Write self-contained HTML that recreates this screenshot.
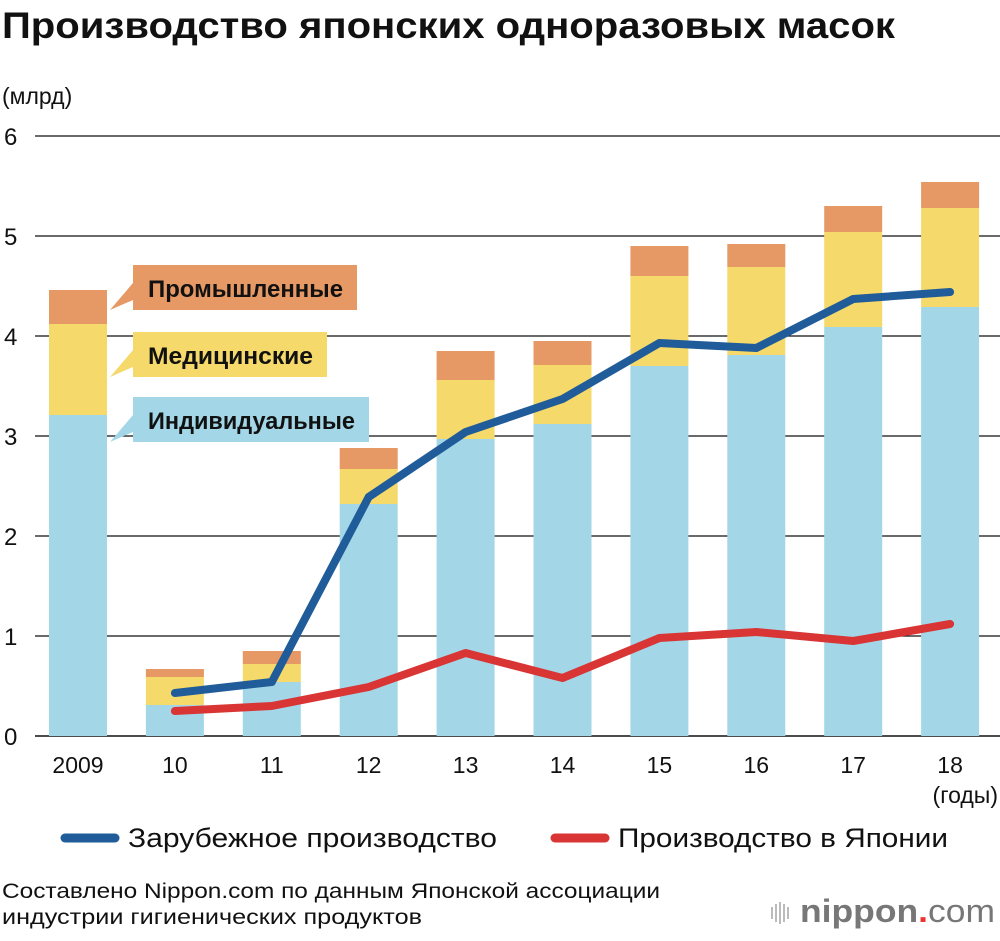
<!DOCTYPE html>
<html><head><meta charset="utf-8">
<style>
body{margin:0;background:#fff;width:1000px;height:936px;overflow:hidden;font-family:"Liberation Sans","Noto Sans CJK JP",sans-serif;}
svg text{font-family:"Liberation Sans","Noto Sans CJK JP",sans-serif;}
</style></head>
<body>
<svg id="chart" width="1000" height="936" xmlns="http://www.w3.org/2000/svg">
<text x="2" y="38" font-size="37" font-weight="bold" fill="#111" textLength="893" lengthAdjust="spacingAndGlyphs">Производство японских одноразовых масок</text>
<text x="2" y="104" font-size="23" fill="#111">(млрд)</text>
<g id="grid"></g>
<g id="bars"></g>
<g id="lines"></g>
<g id="xlabels"></g>
<text x="998" y="803" font-size="23" text-anchor="end" fill="#111">(годы)</text>
<g>
<polygon points="133,283 110,310 133,300" fill="#e69865"/>
<rect x="133" y="265" width="224" height="45" fill="#e69865"/>
<text x="148" y="297" font-size="24" font-weight="bold" fill="#111" textLength="195" lengthAdjust="spacingAndGlyphs">Промышленные</text></g>
<g>
<polygon points="133,350 110,377 133,367" fill="#f6d96b"/>
<rect x="133" y="332" width="194" height="45" fill="#f6d96b"/>
<text x="148" y="364" font-size="24" font-weight="bold" fill="#111" textLength="165" lengthAdjust="spacingAndGlyphs">Медицинские</text></g>
<g>
<polygon points="133,415 110,442 133,432" fill="#a3d7e8"/>
<rect x="133" y="397" width="236" height="45" fill="#a3d7e8"/>
<text x="148" y="429" font-size="24" font-weight="bold" fill="#111" textLength="207" lengthAdjust="spacingAndGlyphs">Индивидуальные</text></g>
<g>
<line x1="65" y1="838" x2="115" y2="838" stroke="#1f5c99" stroke-width="9" stroke-linecap="round"/>
<text x="128" y="847" font-size="27" fill="#111" textLength="369" lengthAdjust="spacingAndGlyphs">Зарубежное производство</text></g>
<g>
<line x1="555" y1="838" x2="605" y2="838" stroke="#d93535" stroke-width="9" stroke-linecap="round"/>
<text x="618" y="847" font-size="27" fill="#111" textLength="330" lengthAdjust="spacingAndGlyphs">Производство в Японии</text></g>
<text x="2" y="898" font-size="21" fill="#111" textLength="658" lengthAdjust="spacingAndGlyphs">Составлено Nippon.com по данным Японской ассоциации</text>
<text x="2" y="924" font-size="21" fill="#111" textLength="420" lengthAdjust="spacingAndGlyphs">индустрии гигиенических продуктов</text>
<g>
<g fill="#bbb"><rect x="771" y="907" width="2" height="12"/><rect x="775" y="904" width="2" height="18"/><rect x="779" y="902" width="2" height="22"/><rect x="783" y="904" width="2" height="18"/><rect x="787" y="907" width="2" height="12"/></g>
<text x="800" y="922" font-size="32" font-weight="bold" fill="#777" textLength="195" lengthAdjust="spacingAndGlyphs">nippon<tspan fill="#e33">.</tspan><tspan font-weight="normal">com</tspan></text></g>
</svg>
<script>
const categories=["2009","10","11","12","13","14","15","16","17","18"];
const individual=[3.21,0.31,0.54,2.32,2.97,3.12,3.70,3.81,4.09,4.29];
const medical=[0.91,0.28,0.18,0.35,0.59,0.59,0.90,0.88,0.95,0.99];
const industrial=[0.34,0.08,0.13,0.21,0.29,0.24,0.30,0.23,0.26,0.26];
const overseas=[null,0.43,0.54,2.39,3.04,3.37,3.93,3.88,4.37,4.44];
const japan=[null,0.25,0.30,0.49,0.83,0.58,0.98,1.04,0.95,1.12];
const yTicks=[0,1,2,3,4,5,6];
const NS="http://www.w3.org/2000/svg";
const y=v=>736-v*100;
const x=i=>78+i*96.9;
const bw=58;
function mk(tag,attrs,parent){const e=document.createElementNS(NS,tag);for(const k in attrs)e.setAttribute(k,attrs[k]);parent.appendChild(e);return e;}
const grid=document.getElementById('grid');
yTicks.forEach(t=>{
 const l=mk('line',{x1:35,x2:1000,y1:y(t),y2:y(t),stroke:'#111','stroke-width':t===0?1.5:1.2},grid);
 
 
 const tx=mk('text',{x:4,y:y(t)+9,'font-size':24,fill:'#111'},grid);
 tx.textContent=t;
 
 
});
const bars=document.getElementById('bars');
const xl=document.getElementById('xlabels');
categories.forEach((c,i)=>{
 const a=individual[i],b=medical[i],d=industrial[i];
 const r1=mk('rect',{x:x(i)-bw/2,y:y(a),width:bw,height:a*100,fill:'#a3d7e8'},bars);
 
 
 const r2=mk('rect',{x:x(i)-bw/2,y:y(a+b),width:bw,height:b*100,fill:'#f6d96b'},bars);
 
 
 const r3=mk('rect',{x:x(i)-bw/2,y:y(a+b+d),width:bw,height:d*100,fill:'#e69865'},bars);
 
 
 const t=mk('text',{x:x(i),y:773,'font-size':23,'text-anchor':'middle',fill:'#111'},xl);
 t.textContent=c;
 
 
});
const lines=document.getElementById('lines');
function pts(arr){return arr.map((v,i)=>v==null?null:x(i)+','+y(v)).filter(p=>p).join(' ');}
const lo=mk('polyline',{points:pts(overseas),fill:'none',stroke:'#1f5c99','stroke-width':8,'stroke-linejoin':'round','stroke-linecap':'round'},lines);


const lj=mk('polyline',{points:pts(japan),fill:'none',stroke:'#d93535','stroke-width':8,'stroke-linejoin':'round','stroke-linecap':'round'},lines);


</script>
</body></html>
